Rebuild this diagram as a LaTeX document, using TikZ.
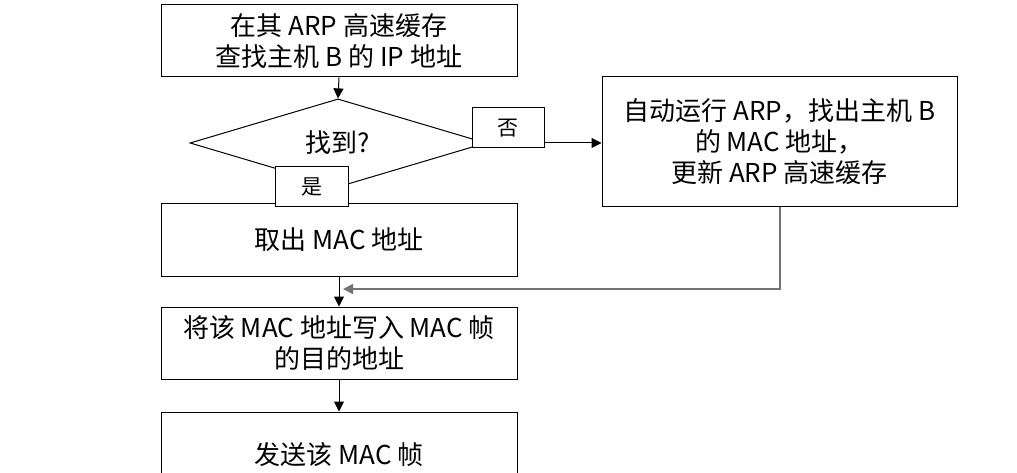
\documentclass[tikz,border=0pt]{standalone}
\usepackage{fontspec}
\newfontfamily\cjk{Noto Sans CJK SC}
\usetikzlibrary{shapes.geometric,arrows.meta}
\begin{document}
\begin{tikzpicture}[x=1pt,y=-1pt,
  box/.style={draw=black,line width=1pt,fill=white,inner sep=0pt,align=center,
    font=\cjk\fontsize{26}{31}\selectfont},
  lab/.style={draw=black,line width=1pt,fill=white,inner sep=0pt,
    font=\cjk\fontsize{21}{24}\selectfont},
  arr/.style={line width=1pt,-{Triangle[length=10pt,width=10pt]}},
  ret/.style={draw=gray!90!black,line width=1.6pt,-{Triangle[length=10pt,width=10pt]}}]
\useasboundingbox (0,0) rectangle (1017,473);
\begin{scope}
\clip (0,0) rectangle (1017,473);
\node[box,minimum width=356pt,minimum height=72pt] (b1) at (339,41) {在其 ARP 高速缓存\\查找主机 B 的 IP 地址};
\node[diamond,draw=black,line width=1pt,minimum width=296pt,minimum height=70pt,inner sep=0pt,
  font=\cjk\fontsize{26}{30}\selectfont] (dia) at (338,143) {找到?};
\node[box,minimum width=355pt,minimum height=130pt] (r) at (779.5,142) {自动运行 ARP，找出主机 B\\的 MAC 地址，\\更新 ARP 高速缓存};
\node[box,minimum width=356pt,minimum height=72pt] (b3) at (339,240) {取出 MAC 地址};
\node[box,minimum width=356pt,minimum height=72pt] (b4) at (339,343) {将该 MAC 地址写入 MAC 帧\\的目的地址};
\node[box,minimum width=356pt,minimum height=86pt] (b5) at (339,455) {发送该 MAC 帧};
\coordinate (c1) at (780,289);
\coordinate (c2) at (343,289);
\draw[arr] (b1.south) -- (dia.north);
\draw[arr] (dia.east) -- (dia.east -| r.west);
\draw[line width=1pt] (dia.south) -- (b3.north);
\draw[arr] (b3.south) -- (b4.north);
\draw[arr] (b4.south) -- (b5.north);
\draw[ret] (r.south -| c1) -- (c1) -- (c2);
\node[lab,minimum width=72pt,minimum height=40pt] (no) at (508,128) {否};
\node[lab,minimum width=73pt,minimum height=40pt] (yes) at (311.5,187) {是};
\end{scope}
\end{tikzpicture}
\end{document}
